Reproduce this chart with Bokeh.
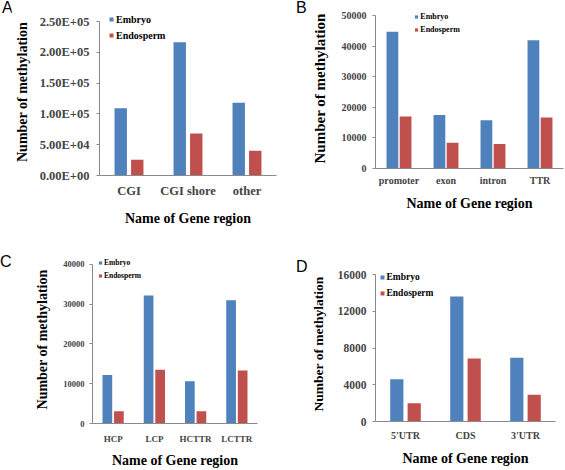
from bokeh.plotting import figure
from bokeh.models import (ColumnDataSource, FactorRange, Range1d, FixedTicker,
                          Legend, LegendItem, Div)
from bokeh.transform import dodge
from bokeh.layouts import column, row
from bokeh.embed import file_html
from bokeh.resources import INLINE

# ---------------- data ----------------
a_regions = ["CGI", "CGI shore", "other"]
a_embryo = [109000, 216500, 118000]
a_endosperm = [25500, 68000, 40000]
a_ticks = [0, 50000, 100000, 150000, 200000, 250000]
a_tick_labels = ["0.00E+00", "5.00E+04", "1.00E+05", "1.50E+05", "2.00E+05", "2.50E+05"]

b_regions = ["promoter", "exon", "intron", "TTR"]
b_embryo = [44700, 17500, 15800, 41900]
b_endosperm = [17000, 8400, 8000, 16700]
b_ticks = [0, 10000, 20000, 30000, 40000, 50000]
b_tick_labels = ["0", "10000", "20000", "30000", "40000", "50000"]

c_regions = ["HCP", "LCP", "HCTTR", "LCTTR"]
c_embryo = [12200, 32200, 10600, 31000]
c_endosperm = [3100, 13500, 3100, 13300]
c_ticks = [0, 10000, 20000, 30000, 40000]
c_tick_labels = ["0", "10000", "20000", "30000", "40000"]

d_regions = ["5'UTR", "CDS", "3'UTR"]
d_embryo = [4600, 13600, 6950]
d_endosperm = [2000, 6850, 2900]
d_ticks = [0, 4000, 8000, 12000, 16000]
d_tick_labels = ["0", "4000", "8000", "12000", "16000"]

series_names = ["Embryo", "Endosperm"]
x_title = "Name of Gene region"
y_title = "Number of methylation"

BLUE = "#4F81BD"
RED = "#C0504D"
AXIS = "#8A8A8A"
SERIF = "Liberation Serif"


def letter_div(letter, width, height, ml, mt):
    html = ('<div style="font-family: \'Liberation Sans\', Arial, sans-serif; '
            'font-size: 16px; line-height: 16px; color: black; '
            f'margin-left: {ml}px; margin-top: {mt}px;">{letter}</div>')
    return Div(text=html, width=width, height=height, margin=(0, 0, 0, 0))


def panel(cats, emb, endo, ticks, tick_labels, cfg):
    W, H = cfg["W"], cfg["H"]
    fl, fw, ft, fb, tick_top = cfg["frame"]   # frame left/width, frame top/bottom, top-tick pixel
    y_end = ticks[-1] * (fb - ft) / (fb - tick_top)
    p = figure(width=W, height=H, x_range=FactorRange(*cats, range_padding=0),
               y_range=Range1d(ticks[0], y_end),
               output_backend="svg", toolbar_location=None,
               min_border_left=fl, min_border_right=W - fl - fw,
               min_border_top=ft, min_border_bottom=H - fb)
    if "frame_align" in p.properties():
        p.frame_align = False
    p.outline_line_color = None
    p.xgrid.visible = False
    p.ygrid.visible = False
    src = ColumnDataSource(dict(cat=cats, emb=emb, endo=endo))
    off, bw = cfg["bars"]
    x_emb = dodge("cat", -off, range=p.x_range)
    x_endo = dodge("cat", off, range=p.x_range)
    p.vbar(x=x_emb, top="emb", width=bw, source=src, fill_color=BLUE, line_color=None)
    p.vbar(x=x_endo, top="endo", width=bw, source=src, fill_color=RED, line_color=None)
    # zero-size markers: used only as legend swatches
    r1 = p.scatter(x=x_emb, y="emb", source=src, size=0, marker="square",
                   fill_color=BLUE, line_color=None)
    r2 = p.scatter(x=x_endo, y="endo", source=src, size=0, marker="square",
                   fill_color=RED, line_color=None)
    lg = cfg["legend"]
    legend = Legend(items=[LegendItem(label=series_names[0], renderers=[r1]),
                           LegendItem(label=series_names[1], renderers=[r2])],
                    location=lg["loc"], orientation="vertical",
                    glyph_width=lg["gw"], glyph_height=lg["h"], label_height=lg["h"],
                    label_standoff=0, spacing=0, padding=0, margin=0,
                    border_line_color=None, background_fill_alpha=0,
                    label_text_font=SERIF, label_text_font_style="bold",
                    label_text_font_size=lg["fs"], label_text_color="black")
    p.add_layout(legend, "center")

    yax = p.yaxis[0]
    yax.ticker = FixedTicker(ticks=ticks)
    yax.bounds = (ticks[0], ticks[-1])
    yax.major_label_overrides = {t: l for t, l in zip(ticks, tick_labels)}
    yax.minor_tick_line_color = None
    yax.major_tick_in = 0
    yax.major_tick_out = 3
    yax.major_tick_line_color = AXIS
    yax.axis_line_color = AXIS
    yax.major_label_text_font = SERIF
    yax.major_label_text_font_style = "bold"
    yax.major_label_text_font_size = cfg["ytick_fs"]
    yax.major_label_standoff = cfg["ytick_so"]
    yax.axis_label = y_title
    yax.axis_label_text_font = SERIF
    yax.axis_label_text_font_style = "bold"
    yax.axis_label_text_font_size = cfg["ytitle_fs"]
    yax.axis_label_standoff = cfg["ytitle_so"]
    yax.axis_label_text_color = "black"

    xax = p.xaxis[0]
    xax.major_tick_line_color = None
    xax.major_tick_out = 0
    xax.major_tick_in = 0
    xax.minor_tick_line_color = None
    xax.axis_line_color = AXIS
    xax.major_label_text_font = SERIF
    xax.major_label_text_font_style = "bold"
    xax.major_label_text_font_size = cfg["xtick_fs"]
    xax.major_label_standoff = cfg["xtick_so"]
    xax.axis_label = x_title
    xax.axis_label_text_font = SERIF
    xax.axis_label_text_font_style = "bold"
    xax.axis_label_text_font_size = "14px"
    xax.axis_label_standoff = cfg["xtitle_so"]
    xax.axis_label_text_color = "black"
    return p


pa = panel(a_regions, a_embryo, a_endosperm, a_ticks, a_tick_labels, dict(
    W=269, H=230, frame=(85, 180, 8, 175, 21), bars=(0.14, 0.21),
    legend=dict(loc=(7, 132), gw=10, h=16, fs="10px"),
    ytick_fs="12.5px", ytick_so=7, ytitle_fs="14px", ytitle_so=7,
    xtick_fs="12.5px", xtick_so=8, xtitle_so=10))

pb = panel(b_regions, b_embryo, b_endosperm, b_ticks, b_tick_labels, dict(
    W=258, H=230, frame=(68, 188, 8, 168, 15), bars=(0.14, 0.25),
    legend=dict(loc=(37.3, 131.8), gw=8, h=13, fs="8px"),
    ytick_fs="10px", ytick_so=6, ytitle_fs="15px", ytitle_so=11,
    xtick_fs="10px", xtick_so=6, xtitle_so=7))

pc = panel(c_regions, c_embryo, c_endosperm, c_ticks, c_tick_labels, dict(
    W=269, H=240, frame=(81, 165, 25, 195, 34), bars=(0.14, 0.235),
    legend=dict(loc=(4, 141.2), gw=8, h=13, fs="7.5px"),
    ytick_fs="8.5px", ytick_so=5, ytitle_fs="14px", ytitle_so=10,
    xtick_fs="9px", xtick_so=10, xtitle_so=6))

pd_ = panel(d_regions, d_embryo, d_endosperm, d_ticks, d_tick_labels, dict(
    W=258, H=240, frame=(65, 183, 36, 191, 44), bars=(0.145, 0.22),
    legend=dict(loc=(1.5, 120.3), gw=10, h=16, fs="9.5px"),
    ytick_fs="11.5px", ytick_so=6, ytitle_fs="13.5px", ytitle_so=9,
    xtick_fs="10px", xtick_so=8, xtitle_so=7))

layout = column(
    row(letter_div("A", 11, 230, 2, 0), pa, letter_div("B", 27, 230, 16, 0), pb),
    row(letter_div("C", 11, 240, 0, 24), pc, letter_div("D", 27, 240, 16, 29), pd_),
)

open("out.html", "w").write(file_html(layout, INLINE))
